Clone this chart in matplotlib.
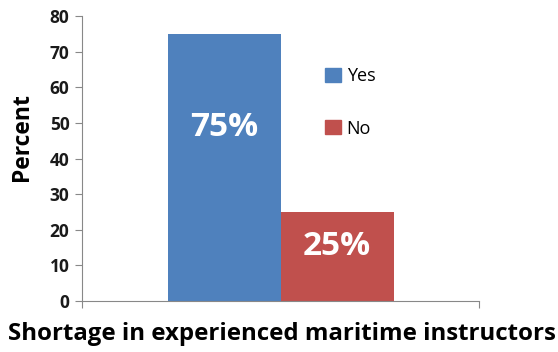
import numpy as np
import matplotlib
matplotlib.use('Agg')
import matplotlib.pyplot as plt
from matplotlib.patches import Patch

plt.rcParams['font.family'] = ['Open Sans', 'DejaVu Sans']

categories = ['Yes', 'No']
values = [75, 25]
labels = ['75%', '25%']
label_y = [48.7, 15.2]
colors = ['#4F81BD', '#C0504D']
yticks = np.arange(0, 81, 10)

fig = plt.figure(figsize=(5.58, 3.52), dpi=100)
ax = fig.add_axes([82/558, 1-301/352, 397/558, 285/352])

w = 113/397
xpos = [-w/2, w/2]
for x, v, c, l, lab, ly in zip(xpos, values, colors, categories, labels, label_y):
    ax.bar(x, v, width=w, color=c, label=l)
    ax.text(x, ly, lab, ha='center', va='center',
            color='white', fontsize=24, fontweight='bold')

ax.set_xlim(-0.5, 0.5)
ax.set_ylim(0, 80)
ax.set_yticks(yticks)
ax.set_yticklabels([str(t) for t in yticks], fontsize=12.5, fontweight='bold', color='#1a1a1a')
ax.set_xticks([-0.5, 0.5])
ax.set_xticklabels(['', ''])
for s in ['top', 'right']:
    ax.spines[s].set_visible(False)
for s in ['left', 'bottom']:
    ax.spines[s].set_color('#888888')
ax.tick_params(axis='both', color='#888888', length=5, direction='out', pad=4)

handles = [Patch(color=c, label=l) for c, l in zip(colors, categories)]
ax.legend(handles=handles, loc='upper left', bbox_to_anchor=(0.612, 0.82),
          frameon=False, fontsize=13, handlelength=0.9, handleheight=0.8,
          handletextpad=0.3, labelspacing=1.9, borderpad=0, borderaxespad=0)

fig.text(22/558, 1-137/352, 'Percent', rotation=90, ha='center', va='center',
         fontsize=16.5, fontweight='bold')
fig.text(282/558, 1-334/352, 'Shortage in experienced maritime instructors',
         ha='center', va='center', fontsize=17.3, fontweight='bold')

fig.savefig('out.png', dpi=100)
